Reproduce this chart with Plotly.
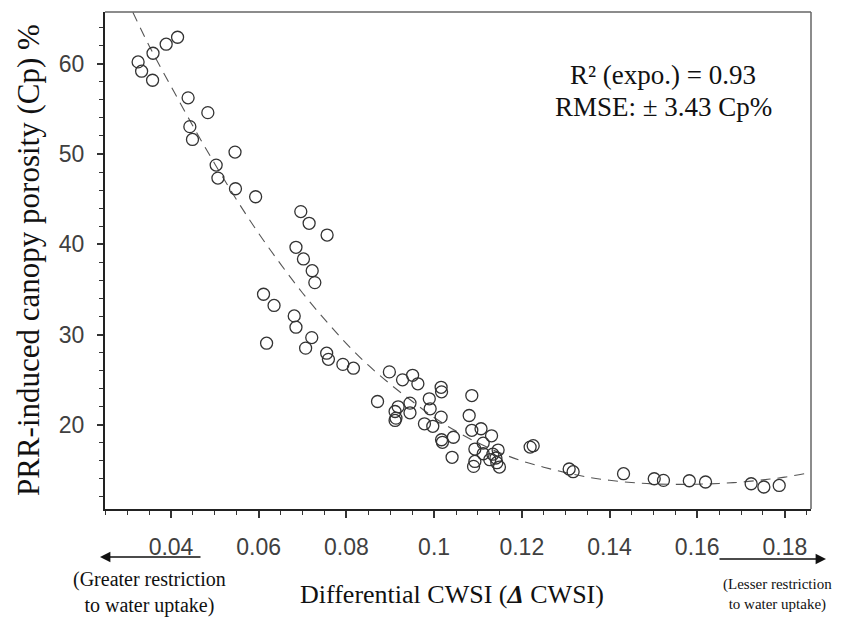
import plotly.graph_objects as go

# ---- data ----
cwsi = [0.0325, 0.0333, 0.0358, 0.0359, 0.0389, 0.0415, 0.0439, 0.0484, 0.0443, 0.0449,
        0.0546, 0.0503, 0.0507, 0.0547, 0.0593, 0.0696, 0.0715, 0.0756, 0.0685, 0.0702,
        0.0722, 0.0728, 0.0611, 0.0635, 0.0681, 0.0685, 0.0618, 0.0721, 0.0707, 0.0755,
        0.0759, 0.0792, 0.0816, 0.0898, 0.0928, 0.0951, 0.0963, 0.0871, 0.0918, 0.0911,
        0.0913, 0.0911, 0.0945, 0.0945, 0.0989, 0.0991, 0.1016, 0.1017, 0.1016, 0.0978,
        0.0997, 0.1086, 0.1080, 0.1086, 0.1107, 0.1131, 0.1017, 0.1019, 0.1044, 0.1112,
        0.1093, 0.1112, 0.1146, 0.1134, 0.1041, 0.1093, 0.1090, 0.1127, 0.1141, 0.1143,
        0.1149, 0.1219, 0.1226, 0.1308, 0.1317, 0.1432, 0.1502, 0.1523, 0.1582, 0.1619,
        0.1723, 0.1752, 0.1787]
porosity = [60.2, 59.17, 58.17, 61.16, 62.16, 62.93, 56.22, 54.58, 53.03, 51.61,
            50.21, 48.77, 47.33, 46.15, 45.26, 43.62, 42.32, 41.02, 39.66, 38.37,
            37.07, 35.75, 34.46, 33.22, 32.06, 30.81, 29.04, 29.66, 28.49, 27.93,
            27.25, 26.69, 26.27, 25.86, 24.98, 25.48, 24.54, 22.58, 21.99, 21.47,
            20.74, 20.48, 22.4, 21.33, 22.88, 21.77, 24.15, 23.65, 20.85, 20.11,
            19.83, 23.24, 21.03, 19.39, 19.56, 18.78, 18.34, 18.06, 18.62, 17.97,
            17.31, 16.79, 17.2, 16.74, 16.4, 15.94, 15.39, 16.13, 16.32, 15.8,
            15.32, 17.53, 17.68, 15.1, 14.8, 14.58, 14.02, 13.84, 13.8, 13.66,
            13.47, 13.11, 13.28]

fit_x = [0.0313, 0.035, 0.040, 0.045, 0.050, 0.055, 0.060, 0.065, 0.070, 0.075, 0.080,
         0.085, 0.090, 0.095, 0.100, 0.105, 0.110, 0.115, 0.120, 0.125, 0.130, 0.135,
         0.140, 0.145, 0.150, 0.155, 0.160, 0.165, 0.170, 0.175, 0.180, 0.1862]
fit_y = [65.7, 62.0, 57.5, 53.1, 48.9, 44.9, 41.2, 37.8, 34.6, 31.7, 29.0,
         26.6, 24.5, 22.6, 20.8, 19.3, 18.0, 16.9, 16.0, 15.3, 14.7, 14.2,
         13.85, 13.6, 13.45, 13.4, 13.42, 13.5, 13.65, 13.9, 14.2, 14.75]

x_tickvals = [0.04, 0.06, 0.08, 0.10, 0.12, 0.14, 0.16, 0.18]
x_ticktext = ["0.04", "0.06", "0.08", "0.1", "0.12", "0.14", "0.16", "0.18"]
y_tickvals = [20, 30, 40, 50, 60]

SERIF = "Liberation Serif"
SANS = "Liberation Sans"

fig = go.Figure()
fig.add_trace(go.Scatter(x=fit_x, y=fit_y, mode="lines", line_shape="spline",
                         line=dict(color="#555555", width=1.1, dash="10px,7px"),
                         hoverinfo="skip", showlegend=False))
fig.add_trace(go.Scatter(x=cwsi, y=porosity, mode="markers",
                         marker=dict(symbol="circle-open", size=12,
                                     line=dict(color="#333333", width=1.3),
                                     color="#333333"),
                         showlegend=False))

# page body has an 8px offset in the browser
OFF = 8
W, H = 845, 617
L, T = 105 - OFF, 12 - OFF
PR, PB = 811 - OFF, 509 - OFF
R, B = W - PR, H - PB
pw, ph = PR - L, PB - T

def px(xp):
    return (xp - OFF - L) / pw

def py(yp):
    return (PB - (yp - OFF)) / ph

fig.update_layout(
    width=W, height=H,
    margin=dict(l=L, r=R, t=T, b=B),
    paper_bgcolor="white", plot_bgcolor="white",
    xaxis=dict(range=[0.02495, 0.18595], tickvals=x_tickvals, ticktext=x_ticktext,
               showgrid=False, zeroline=False, showline=True, linecolor="#222222",
               linewidth=2, ticks="outside", ticklen=7, tickwidth=1.5, tickcolor="#333333",
               ticklabelstandoff=9,
               tickfont=dict(family=SANS, size=23, color="#404040"),
               minor=dict(dtick=0.005, tick0=0.0, ticks="outside", ticklen=4,
                          tickwidth=1.2, tickcolor="#333333", showgrid=False)),
    yaxis=dict(range=[10.67, 65.73], tickvals=y_tickvals,
               showgrid=False, zeroline=False, showline=True, linecolor="#222222",
               linewidth=2, ticks="outside", ticklen=6, tickwidth=1.5, tickcolor="#333333",
               ticklabelstandoff=8,
               tickfont=dict(family=SANS, size=23, color="#404040"),
               minor=dict(dtick=2, tick0=0, ticks="outside", ticklen=4,
                          tickwidth=1.2, tickcolor="#333333", showgrid=False)),
    shapes=[
        dict(type="line", xref="paper", yref="paper", x0=0, x1=1, y0=1, y1=1,
             line=dict(color="#666666", width=1.5)),
        dict(type="line", xref="paper", yref="paper", x0=1, x1=1, y0=0, y1=1,
             line=dict(color="#666666", width=1.5)),
    ],
)

ann = []
# y title
ann.append(dict(text="PRR-induced canopy porosity (Cp) %", textangle=-90,
                xref="paper", yref="paper", x=px(28), y=py(260),
                xanchor="center", yanchor="middle", showarrow=False,
                font=dict(family=SERIF, size=31, color="#111111")))
# x title
ann.append(dict(text="Differential CWSI (<b><i>Δ</i></b> CWSI)",
                xref="paper", yref="paper", x=px(452), y=py(594),
                xanchor="center", yanchor="middle", showarrow=False,
                font=dict(family=SERIF, size=26, color="#111111")))
# stats
ann.append(dict(text="R² (expo.) = 0.93", xref="paper", yref="paper",
                x=px(663), y=py(75), xanchor="center", yanchor="middle",
                showarrow=False, font=dict(family=SERIF, size=27, color="#111111")))
ann.append(dict(text="RMSE: ± 3.43 Cp%", xref="paper", yref="paper",
                x=px(663), y=py(107), xanchor="center", yanchor="middle",
                showarrow=False, font=dict(family=SERIF, size=27, color="#111111")))
# direction notes
ann.append(dict(text="(Greater restriction<br>to water uptake)", xref="paper", yref="paper",
                x=px(149), y=py(592), xanchor="center", yanchor="middle",
                showarrow=False, font=dict(family=SERIF, size=20, color="#111111")))
ann.append(dict(text="(Lesser restriction<br>to water uptake)", xref="paper", yref="paper",
                x=px(834), y=py(594), xanchor="right", yanchor="middle", align="center",
                showarrow=False, font=dict(family=SERIF, size=15, color="#111111")))
# arrows
ann.append(dict(text="", xref="paper", yref="paper", x=px(100), y=py(557),
                ax=102, ay=0, showarrow=True, arrowhead=2, arrowsize=1.3,
                arrowwidth=1.6, arrowcolor="#111111"))
ann.append(dict(text="", xref="paper", yref="paper", x=px(826), y=py(559),
                ax=-108, ay=0, showarrow=True, arrowhead=2, arrowsize=1.3,
                arrowwidth=1.6, arrowcolor="#111111"))
fig.update_layout(annotations=ann)

fig.write_html("out.html")
